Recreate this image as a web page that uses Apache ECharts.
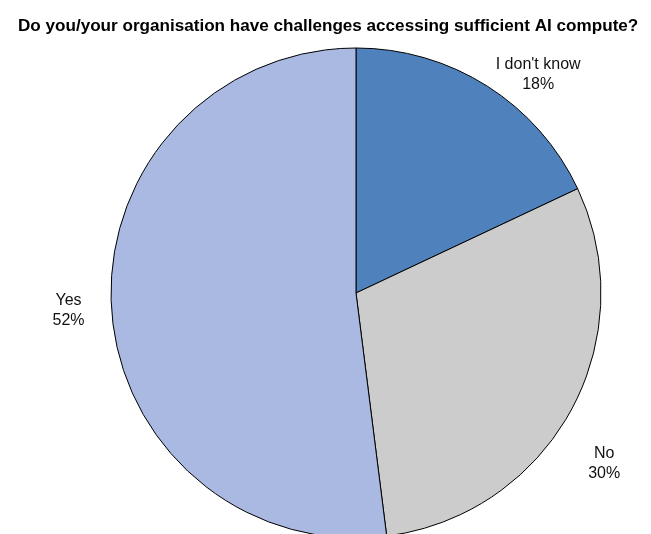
<!DOCTYPE html>
<html>
<head>
<meta charset="utf-8">
<script src="https://cdn.jsdelivr.net/npm/echarts@6/dist/echarts.min.js"></script>
<style>
  html, body { margin: 0; padding: 0; background: #fff; }
  #main { width: 651px; height: 534px; }
</style>
</head>
<body>
<div id="main"></div>
<script>
const categories = ["I don't know", "No", "Yes"];
const shares = [18, 30, 52];
const sliceColors = ['#4F81BD', '#CCCCCC', '#A9B9E2'];

const fontName = "'Liberation Sans Narrow', 'Arial Narrow', 'Liberation Sans', Arial, sans-serif";

// label nudges (Excel places them a bit differently than echarts)
const labelShift = [[-3, -1], [2, 47], [-10, 1]];

const chart = echarts.init(document.getElementById('main'));

const option = {
    animation: false,
    backgroundColor: '#ffffff',
    title: {
        text: 'Do you/your organisation have challenges accessing sufficient AI compute?',
        left: 13,
        top: 13,
        textStyle: {
            fontFamily: fontName,
            fontSize: 17.1,
            fontWeight: 'bold',
            color: '#000'
        }
    },
    series: [
        {
            type: 'pie',
            center: [356, 293],
            radius: 245,
            startAngle: 90,
            clockwise: true,
            itemStyle: {
                borderColor: '#000',
                borderWidth: 1
            },
            label: {
                show: true,
                position: 'outside',
                formatter: '{b}\n{c}%',
                fontFamily: fontName,
                fontSize: 16,
                lineHeight: 20,
                color: '#111'
            },
            labelLine: { show: false, length: 12, length2: 0 },
            labelLayout: function (params) {
                const r = params.labelRect;
                const s = labelShift[params.dataIndex];
                return {
                    x: r.x + r.width / 2 + s[0],
                    y: r.y + r.height / 2 + s[1],
                    align: 'center',
                    verticalAlign: 'middle'
                };
            },
            data: categories.map((c, i) => ({
                name: c,
                value: shares[i],
                itemStyle: { color: sliceColors[i] }
            }))
        }
    ]
};

chart.setOption(option);
</script>
</body>
</html>
